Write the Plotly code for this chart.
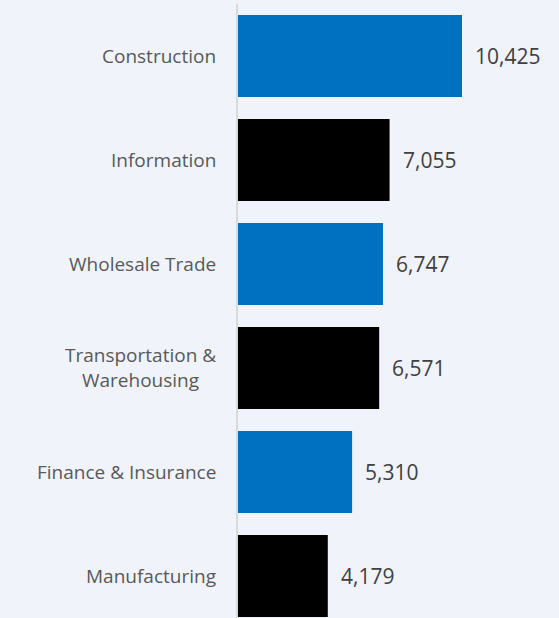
import plotly.graph_objects as go

categories = ["Construction", "Information", "Wholesale Trade",
              "Transportation &<br>Warehousing", "Finance & Insurance", "Manufacturing"]
values = [10425, 7055, 6747, 6571, 5310, 4179]
colors = ["#0070C0", "#000000", "#0070C0", "#000000", "#0070C0", "#000000"]
value_labels = [f"{v:,}" for v in values]

idx = list(range(len(categories)))
FONT = "Open Sans"

fig = go.Figure(go.Bar(
    y=idx, x=values, orientation="h",
    marker=dict(color=colors, line=dict(width=0)),
    width=0.79, hoverinfo="skip",
))

for i, c in enumerate(categories):
    fig.add_annotation(x=0, xref="paper", y=i, yref="y", text=c, showarrow=False,
                       xanchor="right", align="center", xshift=-20,
                       font=dict(family=FONT, size=19, color="#595959"))
    fig.add_annotation(x=values[i], xref="x", y=i, yref="y", text=value_labels[i],
                       showarrow=False, xanchor="left", xshift=11,
                       font=dict(family=FONT, size=21, color="#404040"))

fig.update_layout(
    width=559, height=618,
    margin=dict(l=238, r=0, t=4, b=0),
    paper_bgcolor="#F0F3FA", plot_bgcolor="#F0F3FA",
    showlegend=False,
    xaxis=dict(range=[0, 14940], showgrid=False, zeroline=False, showticklabels=False),
    yaxis=dict(range=[5.404, -0.5], showgrid=False, zeroline=False, showticklabels=False,
               showline=True, linecolor="#D9D9D9", linewidth=2),
)
fig.write_html("out.html", config={"displayModeBar": False},
               post_script="document.body.style.margin='0';document.body.style.overflow='hidden';")
